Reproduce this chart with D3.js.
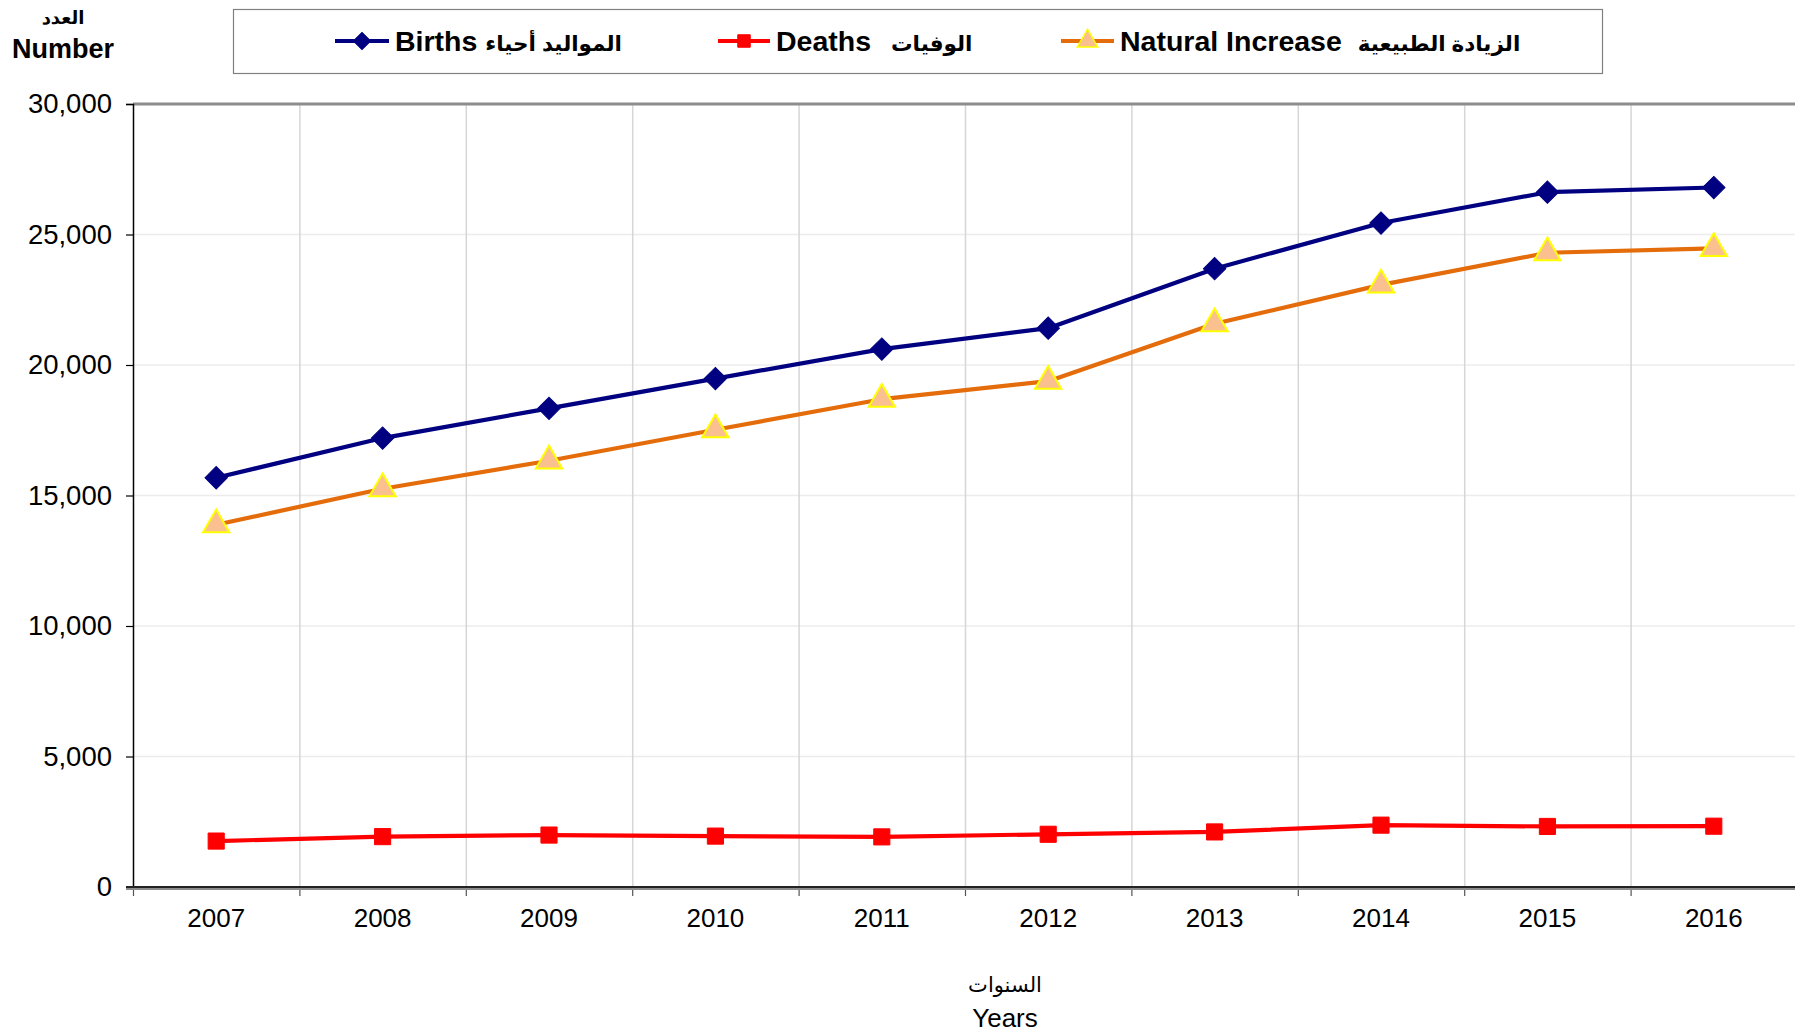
<!DOCTYPE html>
<html lang="en">
<head>
<meta charset="utf-8">
<script src="https://d3js.org/d3.v7.min.js"></script>
<style>
  body { margin: 0; background: #fff; }
  svg { display: block; font-family: "Liberation Sans", Arial, "DejaVu Sans", sans-serif; }
</style>
</head>
<body>
<div id="chart"></div>
<script>
    // chart values
    let years = ["2007", "2008", "2009", "2010", "2011", "2012", "2013", "2014", "2015", "2016"];
    let births = [15680, 17200, 18340, 19480, 20610, 21410, 23690, 25440, 26620, 26800];
    let deaths = [1760, 1930, 1990, 1950, 1920, 2020, 2110, 2370, 2320, 2330];
    let naturalIncrease = [13880, 15260, 16330, 17520, 18690, 19380, 21580, 23070, 24300, 24470];
    let yTicks = [0, 5000, 10000, 15000, 20000, 25000, 30000];

    let W = 1795, H = 1034;
    let margin = {top: 104, right: -2, bottom: 147, left: 133};

    let svg = d3.select("#chart").append("svg")
      .attr("width", W)
      .attr("height", H);

    let x = d3.scaleBand()
      .domain(years)
      .range([margin.left, W - margin.right])
      .padding(0);

    let y = d3.scaleLinear()
      .domain([0, 30000])
      .range([H - margin.bottom, margin.top]);

    let cx = function(i) { return x(years[i]) + x.bandwidth() / 2; };

    // horizontal grid
    svg.append("g")
      .selectAll("line")
      .data(yTicks.slice(1, -1))
      .enter().append("line")
      .attr("x1", margin.left).attr("x2", W)
      .attr("y1", d => y(d)).attr("y2", d => y(d))
      .attr("stroke", "#ececec")
      .attr("stroke-width", 1.5);

    // vertical grid at category boundaries
    svg.append("g")
      .selectAll("line")
      .data(years.slice(1))
      .enter().append("line")
      .attr("x1", d => x(d) + 0.5).attr("x2", d => x(d) + 0.5)
      .attr("y1", y(30000)).attr("y2", y(0))
      .attr("stroke", "#d6d6d6")
      .attr("stroke-width", 1.5);

    // top border
    svg.append("line")
      .attr("x1", margin.left).attr("x2", W)
      .attr("y1", y(30000)).attr("y2", y(30000))
      .attr("stroke", "#8c8c8c")
      .attr("stroke-width", 3);

    // Y axis
    let yAxis = svg.append("g")
      .attr("transform", "translate(" + margin.left + ",0)")
      .call(d3.axisLeft(y).tickValues(yTicks).tickSize(7).tickPadding(14).tickFormat(d3.format(",")));
    yAxis.select(".domain").attr("stroke", "#000").attr("stroke-width", 1.5);
    yAxis.selectAll(".tick line").attr("stroke", "#000").attr("stroke-width", 1.2);
    yAxis.selectAll("text")
      .attr("font-size", 27.5)
      .attr("font-family", "'Liberation Sans', Arial, sans-serif")
      .attr("fill", "#000");

    // X axis: labels at band centres, ticks at boundaries
    let xAxis = svg.append("g")
      .attr("transform", "translate(0," + y(0) + ")")
      .call(d3.axisBottom(x).tickSize(0).tickPadding(22));
    xAxis.select(".domain").remove();
    xAxis.selectAll("text")
      .attr("font-size", 26)
      .attr("font-family", "'Liberation Sans', Arial, sans-serif")
      .attr("fill", "#000");

    svg.append("g")
      .selectAll("line")
      .data(years)
      .enter().append("line")
      .attr("x1", d => x(d) + 0.5).attr("x2", d => x(d) + 0.5)
      .attr("y1", y(0)).attr("y2", y(0) + 9)
      .attr("stroke", "#555")
      .attr("stroke-width", 1.2);

    svg.append("line")
      .attr("x1", margin.left - 7).attr("x2", W)
      .attr("y1", y(0) + 1).attr("y2", y(0) + 1)
      .attr("stroke", "#8c8c8c")
      .attr("stroke-width", 4);
    svg.append("line")
      .attr("x1", margin.left - 7).attr("x2", W)
      .attr("y1", y(0)).attr("y2", y(0))
      .attr("stroke", "#000")
      .attr("stroke-width", 1.5);

    // series
    let series = [
      {name: "Births", en: "Births", ar: "المواليد أحياء", arGap: 0, values: births, color: "#000080",
       symbol: d3.symbolSquare, rotate: 45, size: 250, fill: "#000080", stroke: "#000080", legendX: 335, legendW: 54},
      {name: "Deaths", en: "Deaths", ar: "الوفيات", arGap: 12, values: deaths, color: "#ff0000",
       symbol: d3.symbolSquare, rotate: 0, size: 260, fill: "#ff0000", stroke: "#ff0000", legendX: 718, legendW: 52},
      {name: "Natural", en: "Natural Increase", ar: "الزيادة الطبيعية", arGap: 8, values: naturalIncrease, color: "#e46c0a",
       symbol: d3.symbolTriangle, rotate: 0, size: 300, fill: "#fac090", stroke: "#ffff00", legendX: 1061, legendW: 53}
    ];

    let line = d3.line()
      .x((d, i) => cx(i))
      .y(d => y(d));

    series.forEach(function(s) {
      svg.append("path")
        .datum(s.values)
        .attr("fill", "none")
        .attr("stroke", s.color)
        .attr("stroke-width", 4.2)
        .attr("stroke-linejoin", "round")
        .attr("d", line);
    });

    series.forEach(function(s) {
      svg.append("g")
        .selectAll("path")
        .data(s.values)
        .enter().append("path")
        .attr("transform", (d, i) => "translate(" + cx(i) + "," + y(d) + ") rotate(" + s.rotate + ")")
        .attr("d", d3.symbol().type(s.symbol).size(s.size))
        .attr("fill", s.fill)
        .attr("stroke", s.stroke)
        .attr("stroke-width", s.name === "Natural" ? 2 : 1);
    });

    // legend
    svg.append("rect")
      .attr("x", 233.5).attr("y", 9.5)
      .attr("width", 1369).attr("height", 64)
      .attr("fill", "#fff")
      .attr("stroke", "#808080")
      .attr("stroke-width", 1.2);

    let legendY = 41;
    series.forEach(function(s) {
      let g = svg.append("g");
      g.append("line")
        .attr("x1", s.legendX).attr("x2", s.legendX + s.legendW)
        .attr("y1", legendY).attr("y2", legendY)
        .attr("stroke", s.color)
        .attr("stroke-width", 4);
      g.append("path")
        .attr("transform", "translate(" + (s.legendX + s.legendW / 2) + "," + legendY + ") rotate(" + s.rotate + ")")
        .attr("d", d3.symbol().type(s.symbol).size(s.size * 0.6))
        .attr("fill", s.fill)
        .attr("stroke", s.stroke)
        .attr("stroke-width", s.name === "Natural" ? 1.5 : 1);
      let t = g.append("text")
        .attr("x", s.legendX + s.legendW + 6)
        .attr("y", legendY + 10)
        .attr("font-weight", "bold")
        .attr("direction", "ltr");
      t.append("tspan")
        .attr("font-size", 28.5)
        .text(s.en + " ");
      t.append("tspan")
        .attr("font-size", 21.5)
        .attr("dx", s.arGap)
        .text(s.ar);
    });

    // axis titles
    svg.append("text")
      .attr("x", 63).attr("y", 24)
      .attr("text-anchor", "middle")
      .attr("font-size", 18)
      .attr("font-weight", "bold")
      .text("العدد");
    svg.append("text")
      .attr("x", 63).attr("y", 58)
      .attr("text-anchor", "middle")
      .attr("font-size", 27)
      .attr("font-weight", "bold")
      .text("Number");

    svg.append("text")
      .attr("x", 1005).attr("y", 992)
      .attr("text-anchor", "middle")
      .attr("font-size", 21)
      .text("السنوات");
    svg.append("text")
      .attr("x", 1005).attr("y", 1027)
      .attr("text-anchor", "middle")
      .attr("font-size", 26)
      .text("Years");
</script>
</body>
</html>
